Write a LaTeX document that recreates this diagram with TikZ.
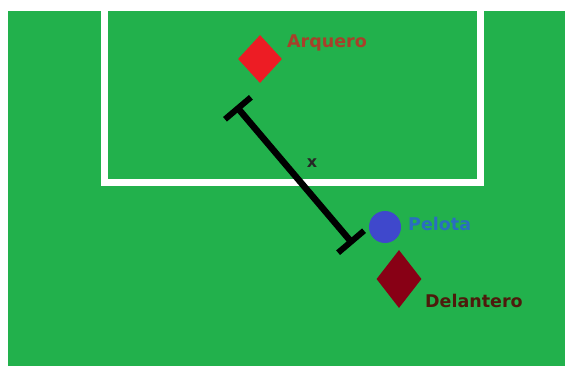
\documentclass[tikz,border=0pt]{standalone}
\usepackage{fontspec}
\newfontfamily\lblfont{DejaVu Sans}
\usetikzlibrary{shapes.geometric,arrows.meta}
\definecolor{pitch}{HTML}{22B14C}
\definecolor{keeper}{HTML}{ED1C24}
\definecolor{striker}{HTML}{880015}
\definecolor{ball}{HTML}{3F48CC}
\definecolor{keepertxt}{HTML}{A8402A}
\definecolor{balltxt}{HTML}{2A6EC0}
\definecolor{strikertxt}{HTML}{4E1A0C}
\tikzset{
  player/.style={diamond, inner sep=0pt, draw=none},
  lbl/.style={anchor=base west, inner sep=0pt, font=\lblfont\bfseries\fontsize{17.5}{20}\selectfont},
  goalline/.style={white, line width=7pt},
  measure/.style={line width=6.5pt, {Bar[width=34pt,line width=6pt]}-{Bar[width=34pt,line width=6pt]}}
}
\begin{document}
\begin{tikzpicture}[x=1pt,y=-1pt]
\useasboundingbox (0,0) rectangle (565,366);
\fill[white] (0,0) rectangle (565,366);
\fill[pitch] (8,11) rectangle (565,366);
% goal area
\draw[goalline] (104.5,11) -- (104.5,182.5) -- (480.5,182.5) -- (480.5,11);
% players and ball
\node[player, fill=keeper, minimum width=44pt, minimum height=48pt] (arq) at (260,59) {};
\node[player, fill=striker, minimum width=45pt, minimum height=58pt] (del) at (399,279) {};
\node[circle, fill=ball, inner sep=0pt, minimum size=32pt] (pel) at (385,227) {};
% labels
\node[lbl, text=keepertxt] (arqlbl) at (287,48) {Arquero};
\node[lbl, text=balltxt] (pellbl) at (408,231) {Pelota};
\node[lbl, text=strikertxt] (dellbl) at (425,307) {Delantero};
% distance
\coordinate (m1) at (236,106);
\coordinate (m2) at (353,244);
\draw[measure] (m1) -- (m2);
\node[anchor=base, inner sep=0pt, font=\lblfont\bfseries\fontsize{16}{18}\selectfont, text=black!85] (xlbl) at (312,168) {x};
\end{tikzpicture}
\end{document}
